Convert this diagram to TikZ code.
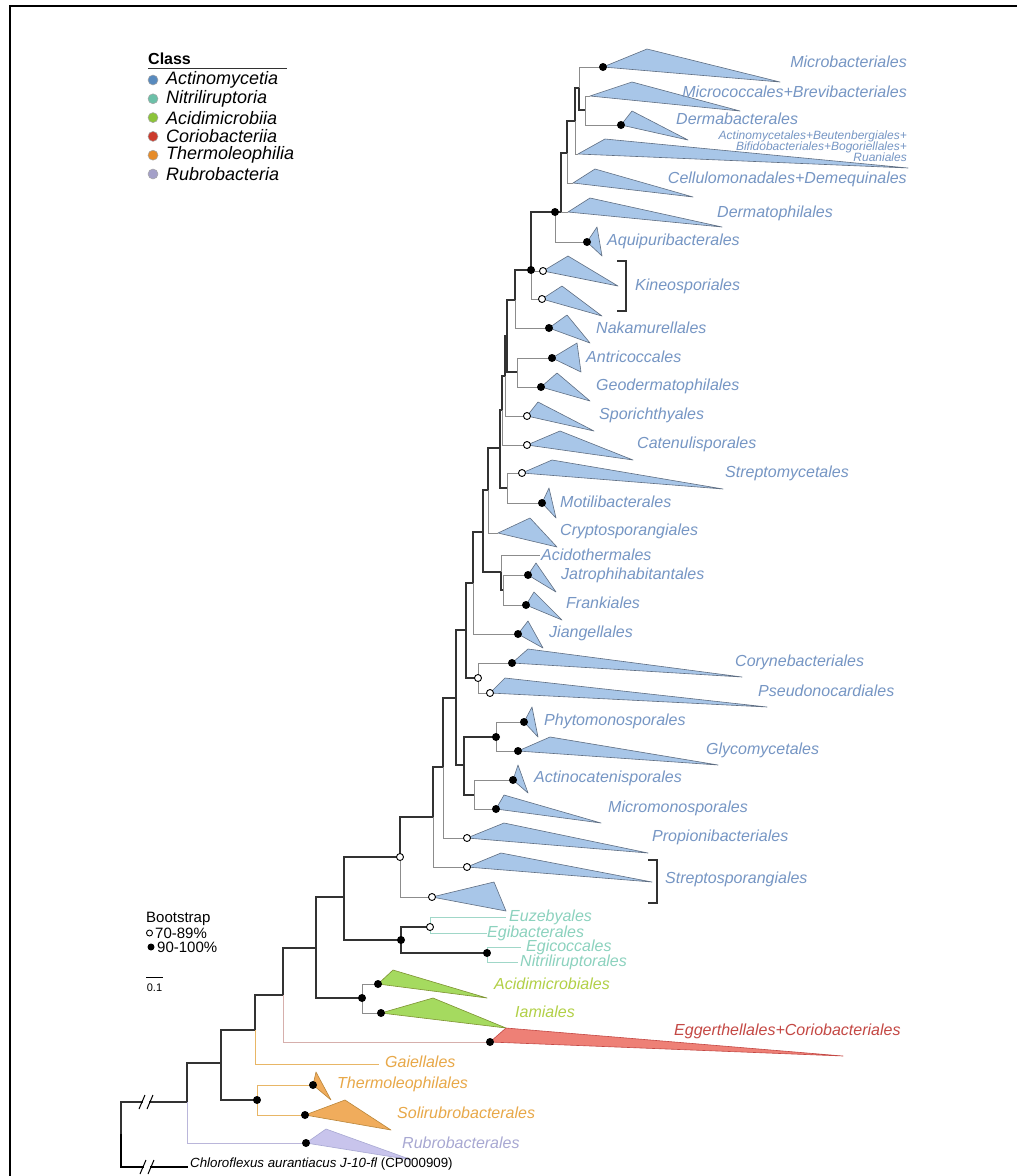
\documentclass[tikz,border=0pt]{standalone}
\usepackage{fontspec}
\newfontfamily\lab{Liberation Sans}
\definecolor{actlab}{RGB}{118,150,196}
\definecolor{actfill}{RGB}{168,198,232}
\definecolor{tribd}{RGB}{95,110,130}
\definecolor{nitlab}{RGB}{140,210,190}
\definecolor{nitln}{RGB}{160,215,200}
\definecolor{acilab}{RGB}{178,208,70}
\definecolor{acifill}{RGB}{165,218,95}
\definecolor{corlab}{RGB}{196,72,68}
\definecolor{corfill}{RGB}{238,128,118}
\definecolor{corln}{RGB}{214,175,172}
\definecolor{thelab}{RGB}{232,168,72}
\definecolor{thefill}{RGB}{240,172,92}
\definecolor{theln}{RGB}{232,182,102}
\definecolor{rublab}{RGB}{168,168,210}
\definecolor{rubfill}{RGB}{200,196,236}
\definecolor{rubln}{RGB}{186,182,218}
\definecolor{brc}{RGB}{50,50,50}
\definecolor{lfc}{RGB}{140,140,140}
\definecolor{cact}{RGB}{88,138,190}
\definecolor{cnit}{RGB}{108,192,168}
\definecolor{caci}{RGB}{140,196,58}
\definecolor{ccor}{RGB}{204,58,44}
\definecolor{cthe}{RGB}{230,140,42}
\definecolor{crub}{RGB}{164,160,200}
\begin{document}
\begin{tikzpicture}[x=1pt,y=-1pt,
  br/.style={draw=brc,line width=1.2pt},
  lf/.style={draw=lfc,line width=1pt},
  tri/.style={fill=actfill,draw=tribd,line width=0.6pt,line join=round},
  lbl/.style={font=\fontsize{16}{16}\selectfont\lab\itshape,inner sep=0pt,anchor=west,text=actlab},
  leg/.style={font=\fontsize{18}{18}\selectfont\lab\itshape,inner sep=0pt,anchor=west},
  bsf/.style={circle,fill=black,inner sep=0pt,minimum size=8pt},
  bso/.style={circle,fill=white,draw=black,line width=0.9pt,inner sep=0pt,minimum size=7pt},
]
\useasboundingbox (0,0) rectangle (1017,1176);
\fill[white] (0,0) rectangle (1017,1176);
\draw[line width=2pt] (10,1176) -- (10,6) -- (1017,6);

% ---------- coordinates ----------
\coordinate (microb) at (603,67);
\coordinate (microc) at (590,96);
\coordinate (dermab) at (621,125);
\coordinate (MD) at (585,110);
\coordinate (MB) at (579,88);
\coordinate (actm) at (578,154);
\coordinate (A1) at (575,121);
\coordinate (cell) at (573,183);
\coordinate (A2) at (567,153);
\coordinate (dermt) at (568,212);
\coordinate (A3) at (561,212);
\coordinate (aquip) at (587,242);
\coordinate (U) at (555,212);
\coordinate (kin1) at (543,271);
\coordinate (kin2) at (542,299);
\coordinate (K) at (531,270);
\coordinate (naka) at (549,328);
\coordinate (X515) at (515,300);
\coordinate (antri) at (552,358);
\coordinate (geod) at (541,387);
\coordinate (AG) at (517,372);
\coordinate (X507) at (507,336);
\coordinate (spor) at (527,416);
\coordinate (S1) at (505,376);
\coordinate (cate) at (527,445);
\coordinate (S2) at (502,410);
\coordinate (strm) at (522,473);
\coordinate (motil) at (542,503);
\coordinate (SM) at (507,488);
\coordinate (S3) at (500,448);
\coordinate (crypt) at (498,533);
\coordinate (X488) at (488,490);
\coordinate (acidt) at (540,555);
\coordinate (jatro) at (528,575);
\coordinate (frank) at (526,605);
\coordinate (JF) at (503,590);
\coordinate (AJF) at (501,572);
\coordinate (X483) at (483,532);
\coordinate (jiang) at (518,634);
\coordinate (X473) at (473,583);
\coordinate (coryn) at (512,663);
\coordinate (pseud) at (490,693);
\coordinate (CP) at (478,678);
\coordinate (X466) at (466,630);
\coordinate (phyto) at (524,722);
\coordinate (glyco) at (518,751);
\coordinate (PG) at (496,737);
\coordinate (actc) at (513,780);
\coordinate (micm) at (496,809);
\coordinate (AM) at (474,795);
\coordinate (X464) at (464,765);
\coordinate (X456) at (456,698);
\coordinate (propi) at (467,838);
\coordinate (X443) at (443,767);
\coordinate (strsp) at (467,867);
\coordinate (X433) at (433,817);
\coordinate (lows) at (432,897);
\coordinate (N400) at (400,857);
\coordinate (euz) at (506,917);
\coordinate (egib) at (487,933);
\coordinate (EE) at (430,927);
\coordinate (egic) at (521,947);
\coordinate (nitl) at (518,962);
\coordinate (EN) at (487,953);
\coordinate (NIT) at (401,940);
\coordinate (N344) at (344,897);
\coordinate (acdm) at (378,984);
\coordinate (iam) at (381,1013);
\coordinate (ACI) at (362,998);
\coordinate (NA) at (316,948);
\coordinate (egg) at (490,1042);
\coordinate (NB) at (283,995);
\coordinate (gaie) at (379,1064);
\coordinate (NC) at (255,1030);
\coordinate (thle) at (313,1085);
\coordinate (solr) at (305,1115);
\coordinate (THE) at (257,1100);
\coordinate (ND) at (221,1063);
\coordinate (rubr) at (306,1143);
\coordinate (NE) at (187,1102);
\coordinate (chl) at (188,1167);
\coordinate (root) at (121,1134);

% ---------- triangles ----------
\draw[tri] (microb) -- (647,49) -- (780,82) -- cycle;
\draw[tri] (microc) -- (632,82) -- (740,111) -- cycle;
\draw[tri] (dermab) -- (632,111) -- (688,140) -- cycle;
\draw[tri] (actm) -- (605,139) -- (908,168) -- cycle;
\draw[tri] (cell) -- (595,169) -- (693,197) -- cycle;
\draw[tri] (dermt) -- (590,198) -- (722,227) -- cycle;
\draw[tri] (aquip) -- (597,227) -- (602,256) -- cycle;
\draw[tri] (kin1) -- (568,256) -- (618,286) -- cycle;
\draw[tri] (kin2) -- (562,286) -- (602,316) -- cycle;
\draw[tri] (naka) -- (567,315) -- (590,343) -- cycle;
\draw[tri] (antri) -- (577,343) -- (581,372) -- cycle;
\draw[tri] (geod) -- (557,373) -- (590,401) -- cycle;
\draw[tri] (spor) -- (538,402) -- (594,431) -- cycle;
\draw[tri] (cate) -- (560,431) -- (633,460) -- cycle;
\draw[tri] (strm) -- (552,460) -- (723,489) -- cycle;
\draw[tri] (motil) -- (549,488) -- (556,518) -- cycle;
\draw[tri] (crypt) -- (530,518) -- (557,547) -- cycle;
\draw[tri] (jatro) -- (536,563) -- (556,592) -- cycle;
\draw[tri] (frank) -- (534,592) -- (562,620) -- cycle;
\draw[tri] (jiang) -- (528,621) -- (543,648) -- cycle;
\draw[tri] (coryn) -- (528,649) -- (742,677) -- cycle;
\draw[tri] (pseud) -- (505,678) -- (767,707) -- cycle;
\draw[tri] (phyto) -- (532,707) -- (538,737) -- cycle;
\draw[tri] (glyco) -- (550,737) -- (718,765) -- cycle;
\draw[tri] (actc) -- (518,765) -- (528,793) -- cycle;
\draw[tri] (micm) -- (504,795) -- (601,823) -- cycle;
\draw[tri] (propi) -- (504,823) -- (648,853) -- cycle;
\draw[tri] (strsp) -- (501,853) -- (652,882) -- cycle;
\draw[tri] (lows) -- (494,882) -- (506,911) -- cycle;
\draw[tri,fill=acifill,draw=acilab!70!black] (acdm) -- (393,970) -- (487,998) -- cycle;
\draw[tri,fill=acifill,draw=acilab!70!black] (iam) -- (433,998) -- (506,1028) -- cycle;
\draw[tri,fill=corfill,draw=corlab] (egg) -- (506,1028) -- (843,1056) -- cycle;
\draw[tri,fill=thefill,draw=thelab!80!black] (thle) -- (316,1072) -- (331,1100) -- cycle;
\draw[tri,fill=thefill,draw=thelab!80!black] (solr) -- (345,1100) -- (391,1130) -- cycle;
\draw[tri,fill=rubfill,draw=rublab] (rubr) -- (326,1129) -- (412,1160) -- cycle;

% ---------- branches ----------
\foreach \p/\c in {MB/microb,MD/microc,MD/dermab,A1/actm,A2/cell,A3/dermt,U/aquip,K/kin1,K/kin2,X515/naka,AG/antri,AG/geod,S1/spor,S2/cate,SM/strm,SM/motil,X488/crypt,AJF/acidt,JF/jatro,JF/frank,X473/jiang,CP/coryn,CP/pseud,PG/phyto,PG/glyco,AM/actc,AM/micm,X443/propi,X433/strsp,N400/lows,ACI/acdm,ACI/iam}
  \draw[lf] (\p) |- (\c);
\foreach \p/\c in {EE/euz,EE/egib,EN/egic,EN/nitl}
  \draw[lf,draw=nitln] (\p) |- (\c);
\draw[lf,draw=corln] (NB) |- (egg);
\draw[lf,draw=theln] (NC) |- (gaie);
\draw[lf,draw=theln] (THE) |- (thle);
\draw[lf,draw=theln] (THE) |- (solr);
\draw[lf,draw=rubln] (NE) |- (rubr);
\foreach \p/\c in {MB/MD,A1/MB,A2/A1,A3/A2,U/A3,K/U,X515/K,X507/X515,X507/AG,S1/X507,S2/S1,S3/S2,S3/SM,X488/S3,X483/X488,X483/AJF,AJF/JF,X473/X483,X466/X473,X466/CP,X456/X466,X456/X464,X464/PG,X464/AM,X443/X456,X433/X443,N400/X433,N344/N400,N344/NIT,NIT/EE,NIT/EN,NA/N344,NA/ACI,NB/NA,NC/NB,ND/NC,ND/THE,NE/ND,root/NE}
  \draw[br] (\p) |- (\c);
\draw[br,draw=black] (root) |- (chl);
% break marks
\fill[white] (143,1097) rectangle (149,1107);
\fill[white] (144,1162) rectangle (150,1172);
\draw[line width=1pt] (139,1109) -- (145,1095) (147,1109) -- (153,1095);
\draw[line width=1pt] (140,1174) -- (146,1160) (148,1174) -- (154,1160);

% brackets
\draw[br] (617,261) -- (626,261) -- (626,311) -- (617,311);
\draw[br] (648,860) -- (657,860) -- (657,903) -- (648,903);

% ---------- support values ----------
\foreach \n in {microb,dermab,U,aquip,K,naka,antri,geod,motil,jatro,frank,jiang,coryn,PG,phyto,glyco,actc,micm,NIT,EN,ACI,acdm,iam,egg,THE,thle,solr,rubr}
  \node[bsf] (dot-\n) at (\n) {};
\foreach \n in {kin1,kin2,spor,cate,strm,CP,pseud,propi,strsp,N400,lows,EE}
  \node[bso] (dot-\n) at (\n) {};

% ---------- labels ----------
\node[lbl,anchor=east] (l-microb) at (907,62) {Microbacteriales};
\node[lbl,anchor=east] (l-microc) at (907,92) {Micrococcales+Brevibacteriales};
\node[lbl] (l-dermab) at (676,119) {Dermabacterales};
\node[lbl,anchor=east,font=\fontsize{12}{10}\selectfont\lab\itshape] (l-actm1) at (907,136) {Actinomycetales+Beutenbergiales+};
\node[lbl,anchor=east,font=\fontsize{12}{10}\selectfont\lab\itshape] (l-actm2) at (907,147) {Bifidobacteriales+Bogoriellales+};
\node[lbl,anchor=east,font=\fontsize{12}{10}\selectfont\lab\itshape] (l-actm3) at (907,157) {Ruaniales};
\node[lbl,anchor=east] (l-cell) at (907,179) {Cellulomonadales+Demequinales};
\node[lbl] (l-dermt) at (717,213) {Dermatophilales};
\node[lbl] (l-aquip) at (607,241) {Aquipuribacterales};
\node[lbl] (l-kin) at (635,286) {Kineosporiales};
\node[lbl] (l-naka) at (596,328) {Nakamurellales};
\node[lbl] (l-antri) at (586,357) {Antricoccales};
\node[lbl] (l-geod) at (596,386) {Geodermatophilales};
\node[lbl] (l-spor) at (599,415) {Sporichthyales};
\node[lbl] (l-cate) at (637,444) {Catenulisporales};
\node[lbl] (l-strm) at (725,473) {Streptomycetales};
\node[lbl] (l-motil) at (560,502) {Motilibacterales};
\node[lbl] (l-crypt) at (560,531) {Cryptosporangiales};
\node[lbl] (l-acidt) at (541,555) {Acidothermales};
\node[lbl] (l-jatro) at (561,575) {Jatrophihabitantales};
\node[lbl] (l-frank) at (566,603) {Frankiales};
\node[lbl] (l-jiang) at (549,633) {Jiangellales};
\node[lbl] (l-coryn) at (735,662) {Corynebacteriales};
\node[lbl] (l-pseud) at (758,691) {Pseudonocardiales};
\node[lbl] (l-phyto) at (544,721) {Phytomonosporales};
\node[lbl] (l-glyco) at (706,750) {Glycomycetales};
\node[lbl] (l-actc) at (534,778) {Actinocatenisporales};
\node[lbl] (l-micm) at (608,808) {Micromonosporales};
\node[lbl] (l-propi) at (652,837) {Propionibacteriales};
\node[lbl] (l-strsp) at (665,879) {Streptosporangiales};
\node[lbl,text=nitlab] (l-euz) at (509,917) {Euzebyales};
\node[lbl,text=nitlab] (l-egib) at (487,933) {Egibacterales};
\node[lbl,text=nitlab] (l-egic) at (526,947) {Egicoccales};
\node[lbl,text=nitlab] (l-nitl) at (520,962) {Nitriliruptorales};
\node[lbl,text=acilab] (l-acdm) at (494,984) {Acidimicrobiales};
\node[lbl,text=acilab] (l-iam) at (515,1012) {Iamiales};
\node[lbl,text=corlab] (l-egg) at (674,1031) {Eggerthellales+Coriobacteriales};
\node[lbl,text=thelab] (l-gaie) at (385,1062) {Gaiellales};
\node[lbl,text=thelab] (l-thle) at (337,1084) {Thermoleophilales};
\node[lbl,text=thelab] (l-solr) at (397,1113) {Solirubrobacterales};
\node[lbl,text=rublab] (l-rubr) at (402,1143) {Rubrobacterales};
\node[anchor=west,inner sep=0pt,font=\fontsize{13.3}{14}\selectfont\lab] (l-chl) at (190,1164) {\itshape Chloroflexus aurantiacus J-10-fl \upshape(CP000909)};

% ---------- class legend ----------
\node[anchor=west,inner sep=0pt,font=\fontsize{16}{16}\selectfont\lab\bfseries] (cls) at (148,59) {Class};
\draw[line width=1pt,draw=brc] (148,68) -- (287,68);
\foreach \c/\t/\y [count=\i] in {cact/Actinomycetia/80,cnit/Nitriliruptoria/98.8,caci/Acidimicrobiia/117.6,ccor/Coriobacteriia/136.4,cthe/Thermoleophilia/155.2,crub/Rubrobacteria/174}{
  \node[circle,fill=\c,draw=gray!70,line width=0.5pt,inner sep=0pt,minimum size=10pt] (lc-\i) at (153,\y) {};
  \node[leg] (lt-\i) at (166,\y) {\t};
}

% ---------- bootstrap legend ----------
\node[anchor=west,inner sep=0pt,font=\fontsize{15}{15}\selectfont\lab] (bs) at (146,919) {Bootstrap};
\node[bso,minimum size=6pt] (bso-leg) at (149.5,933) {};
\node[anchor=west,inner sep=0pt,font=\fontsize{15}{15}\selectfont\lab] (bs1) at (155,933) {70-89\%};
\node[bsf,minimum size=7pt] (bsf-leg) at (151,947) {};
\node[anchor=west,inner sep=0pt,font=\fontsize{15}{15}\selectfont\lab] (bs2) at (157,947) {90-100\%};
\coordinate (sb1) at (146,977);
\coordinate (sb2) at (163,977);
\draw[line width=1pt] (sb1) -- (sb2);
\node[inner sep=0pt,font=\fontsize{11}{11}\selectfont\lab] (sbl) at (154.5,988) {0.1};
\end{tikzpicture}
\end{document}
